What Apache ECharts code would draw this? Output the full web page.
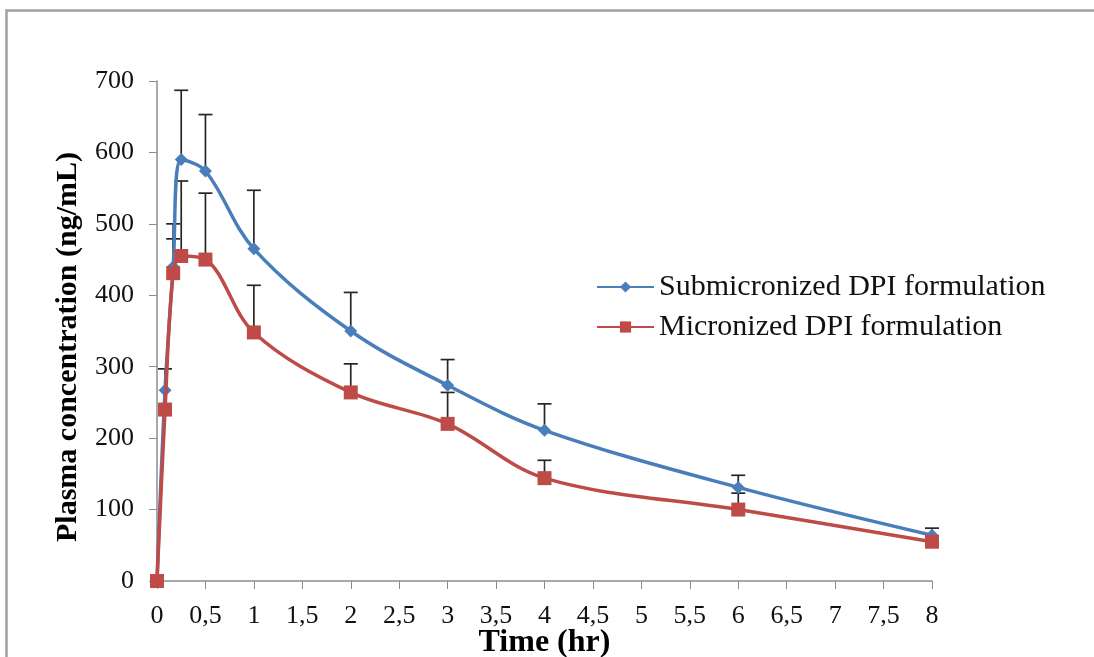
<!DOCTYPE html>
<html>
<head>
<meta charset="utf-8">
<script src="https://cdn.jsdelivr.net/npm/echarts@6/dist/echarts.min.js"></script>
<style>
html,body{margin:0;padding:0;background:#fff;}
#chart{width:1094px;height:657px;}
</style>
</head>
<body>
<div id="chart"></div>
<script>
// Time points (hr)
const times = [0, 0.083, 0.167, 0.25, 0.5, 1, 2, 3, 4, 6, 8];
// Submicronized DPI formulation (ng/mL)
const subMean = [0, 267, 440, 590, 574, 465, 350, 274, 211, 131, 64];
const subErr  = [0, 30, 60, 97, 79, 82, 54, 36, 37, 17, 10];
// Micronized DPI formulation (ng/mL)
const micMean = [0, 240, 431, 455, 450, 348, 264, 220, 144, 100, 55];
const micErr  = [0, 0, 48, 105, 93, 66, 40, 44, 25, 23, 0];
const seriesNames = ['Submicronized DPI formulation', 'Micronized DPI formulation'];
const yTicks = [0, 100, 200, 300, 400, 500, 600, 700];

const blue = '#4A7EBB';
const red = '#BE4B48';
const font = '"Liberation Serif", "Times New Roman", serif';

const chart = echarts.init(document.getElementById('chart'));

function pairs(xs, ys) { return xs.map((x, i) => [x, ys[i]]); }
function errData(xs, ys, es) {
  return xs.map((x, i) => [x, ys[i], ys[i] + es[i]]).filter(d => d[2] > d[1]);
}
function errRender(params, api) {
  const x = api.value(0), lo = api.value(1), hi = api.value(2);
  const p0 = api.coord([x, lo]);
  const p1 = api.coord([x, hi]);
  const hw = 7;
  const style = { stroke: '#262626', lineWidth: 1.7 };
  return {
    type: 'group',
    children: [
      { type: 'line', shape: { x1: p0[0], y1: p0[1], x2: p1[0], y2: p1[1] }, style: style },
      { type: 'line', shape: { x1: p1[0] - hw, y1: p1[1], x2: p1[0] + hw, y2: p1[1] }, style: style }
    ]
  };
}

chart.setOption({
  animation: false,
  backgroundColor: '#fff',
  graphic: [{
    type: 'rect', left: 4, top: 8, shape: { width: 1110, height: 680 },
    style: { fill: 'none', stroke: '#a0a0a0', lineWidth: 2.5 }, silent: true
  }],
  grid: { left: 157, top: 81, width: 775, height: 500, containLabel: false, outerBoundsMode: 'none' },
  legend: {
    orient: 'vertical',
    left: 591, top: 267,
    itemGap: 10,
    itemWidth: 57, itemHeight: 14,
    textStyle: { fontFamily: font, fontSize: 30, lineHeight: 30, color: '#111' },
    data: seriesNames
  },
  xAxis: {
    type: 'value', min: 0, max: 8, interval: 0.5,
    name: 'Time (hr)', nameLocation: 'middle', nameGap: 46, nameMoveOverlap: false,
    nameTextStyle: { fontFamily: font, fontSize: 32, fontWeight: 'bold', color: '#000' },
    axisLine: { lineStyle: { color: '#8c8c8c', width: 1.5 } },
    axisTick: { show: true, length: 8, lineStyle: { color: '#8c8c8c' } },
    axisLabel: { fontFamily: font, fontSize: 26, color: '#111', margin: 22,
      formatter: v => String(v).replace('.', ',') },
    splitLine: { show: false }
  },
  yAxis: {
    type: 'value', min: 0, max: 700, interval: 100,
    name: 'Plasma concentration (ng/mL)', nameLocation: 'middle', nameGap: 74, nameMoveOverlap: false,
    nameTextStyle: { fontFamily: font, fontSize: 30, fontWeight: 'bold', color: '#000', padding: [0, 32, 0, 0] },
    axisLine: { show: true, lineStyle: { color: '#8c8c8c', width: 1.5 } },
    axisTick: { show: true, length: 8, lineStyle: { color: '#8c8c8c' } },
    axisLabel: { fontFamily: font, fontSize: 26, color: '#111', margin: 23,
      formatter: v => yTicks.includes(v) ? String(v) : '' },
    splitLine: { show: false }
  },
  series: [
    {
      type: 'custom', name: 'errSub', renderItem: errRender,
      data: errData(times, subMean, subErr), encode: { x: 0, y: [1, 2] }, z: 1, silent: true
    },
    {
      type: 'custom', name: 'errMic', renderItem: errRender,
      data: errData(times, micMean, micErr), encode: { x: 0, y: [1, 2] }, z: 1, silent: true
    },
    {
      name: seriesNames[0], type: 'line', data: pairs(times, subMean),
      smooth: 0.35, symbol: 'diamond', symbolSize: 13,
      lineStyle: { color: blue, width: 3.5 }, itemStyle: { color: blue }, z: 3
    },
    {
      name: seriesNames[1], type: 'line', data: pairs(times, micMean),
      smooth: 0.35, symbol: 'rect', symbolSize: 14,
      lineStyle: { color: red, width: 3.5 }, itemStyle: { color: red }, z: 4
    }
  ]
});
</script>
</body>
</html>
